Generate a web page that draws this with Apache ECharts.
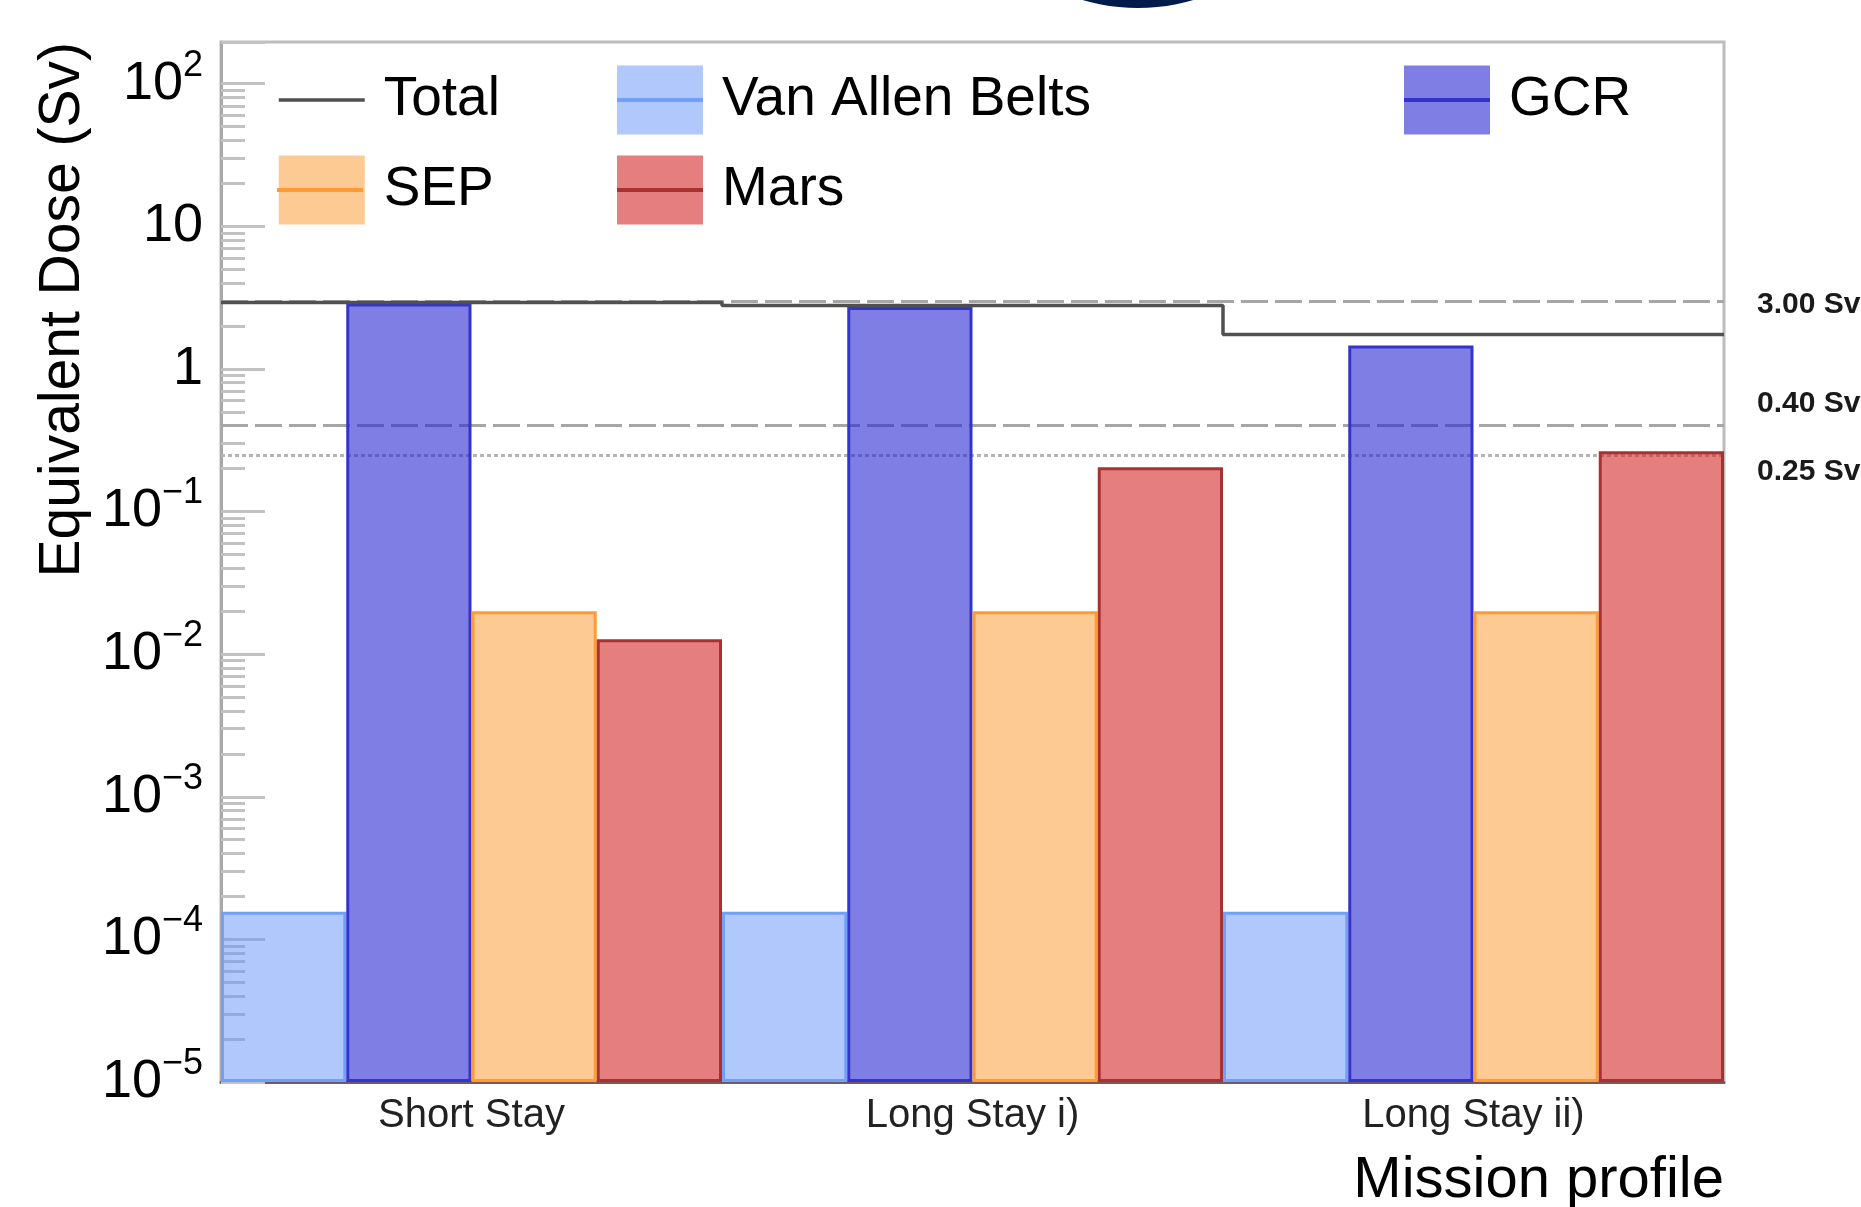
<!DOCTYPE html>
<html lang="en">
<head>
<meta charset="UTF-8">
<title>Equivalent dose per mission profile</title>
<script src="https://cdn.jsdelivr.net/npm/echarts@6/dist/echarts.min.js"></script>
<style>
  html, body { margin: 0; padding: 0; background: #fff; }
  #main { width: 1861px; height: 1207px; }
</style>
</head>
<body>
<div id="main"></div>
<script>
// mission profiles on the x axis
const missions = ['Short Stay', 'Long Stay i)', 'Long Stay ii)']
// equivalent dose per source (Sv)
const vanAllen = [1.56e-4, 1.56e-4, 1.56e-4]
const gcr = [2.88, 2.72, 1.46]
const sep = [0.020, 0.020, 0.020]
const mars = [0.0127, 0.204, 0.265]
const total = [2.92, 2.78, 1.74]
// dose limits drawn as horizontal lines (Sv)
const limits = [3.0, 0.4, 0.25]

const font = '"Liberation Sans", Arial, Helvetica, sans-serif'

// bar colours: translucent fill + outline, like the ROOT histograms
const sources = [
  { name: 'Van Allen Belts', data: vanAllen, fill: 'rgba(97,145,249,0.5)', line: '#73a0f7' },
  { name: 'GCR', data: gcr, fill: 'rgba(40,40,210,0.6)', line: '#3434cc' },
  { name: 'SEP', data: sep, fill: 'rgba(251,149,41,0.5)', line: '#ff9a35' },
  { name: 'Mars', data: mars, fill: 'rgba(212,42,42,0.6)', line: '#a83232' }
]
const lineOf = name => sources.find(s => s.name === name).line

function init () {
  const chart = echarts.init(document.getElementById('main'), null, { renderer: 'canvas' })

  // total as a step line on a hidden 0..3 value axis (bin edges)
  const totalSteps = total.map((t, i) => [i, t])
  totalSteps.push([total.length, total[total.length - 1]])

  // the 0.40 label sits above its line, the others a bit below
  const limitText = (v, i) => {
    const t = v.toFixed(2) + ' Sv'
    if (i === 0) return '{s|}\n{a|' + t + '}'
    if (i === 1) return '{a|' + t + '}\n{u|}'
    return '{d|}\n{a|' + t + '}'
  }

  const boxLegend = (left, top, names) => ({
    orient: 'vertical', left, top, padding: 0,
    itemWidth: 86, itemHeight: 69, itemGap: 21,
    selectedMode: false,
    itemStyle: { borderWidth: 0 },
    lineStyle: { color: '#505050', width: 3.5 },
    textStyle: { fontSize: 55, lineHeight: 69, color: '#000', fontFamily: font, padding: [0, 0, 0, 14] },
    data: names.map(n => n === 'Total'
      ? { name: n, itemStyle: { opacity: 0 }, lineStyle: { color: '#505050', width: 3.5 } }
      : { name: n, icon: 'rect' })
  })
  const stripLegend = (left, top, names) => ({
    orient: 'vertical', left, top, padding: 0,
    itemWidth: 86, itemHeight: 4, itemGap: 86,
    selectedMode: false,
    textStyle: { fontSize: 1, color: 'rgba(0,0,0,0)' },
    formatter: () => '',
    data: names.map(n => ({ name: n, icon: 'rect', itemStyle: { color: lineOf(n), borderWidth: 0 } }))
  })

  const option = {
    animation: false,
    backgroundColor: '#fff',
    textStyle: { fontFamily: font },
    title: {
      text: 'Mission profile',
      right: 137, top: 1150, padding: 0,
      textStyle: { fontSize: 58, lineHeight: 62, fontWeight: 'normal', color: '#000', fontFamily: font }
    },
    graphic: [
      { type: 'circle', shape: { cx: 1138, cy: -188, r: 196 }, style: { fill: '#001a4a' } },
      {
        type: 'text', x: 63, y: 42, rotation: Math.PI / 2,
        style: {
          text: 'Equivalent Dose (Sv)', fill: '#000',
          fontSize: 57, fontFamily: font, align: 'right', verticalAlign: 'middle'
        }
      }
    ],
    legend: [
      boxLegend(277, 65.5, ['Total', 'SEP']),
      boxLegend(617, 65.5, ['Van Allen Belts', 'Mars']),
      boxLegend(1404, 65.5, ['GCR']),
      stripLegend(617, 98, ['Van Allen Belts', 'Mars']),
      stripLegend(1404, 98, ['GCR']),
      stripLegend(277, 188, ['SEP'])
    ],
    grid: {
      left: 221, right: 137, top: 42, bottom: 125,
      show: true, borderColor: '#bdbdbd', borderWidth: 3,
      outerBoundsMode: 'none'
    },
    xAxis: [
      {
        type: 'category',
        data: missions,
        axisLine: { onZero: false, lineStyle: { color: '#765a5a', width: 3 } },
        axisTick: { show: false },
        axisLabel: { fontSize: 40, color: '#222', margin: 14, fontFamily: font },
        splitLine: { show: false }
      },
      { type: 'value', min: 0, max: 3, show: false }
    ],
    yAxis: {
      type: 'log',
      logBase: 10,
      min: 1e-5,
      max: 196,
      startValue: 1e-5,
      axisLine: { show: true, lineStyle: { color: '#a8a8a8', width: 3 } },
      axisTick: { show: true, inside: true, length: 44, lineStyle: { color: '#c2c2c2', width: 3 } },
      minorTick: { show: true, splitNumber: 9, length: 24, lineStyle: { color: '#c2c2c2', width: 3 } },
      splitLine: { show: false },
      axisLabel: {
        margin: 18,
        showMaxLabel: false,
        color: '#000',
        formatter: v => {
          const e = Math.round(Math.log10(v))
          if (e === 0) return '{b|1}'
          if (e === 1) return '{b|10}'
          return '{b|10}{s|' + (e < 0 ? '\u2212' + (-e) : e) + '}'
        },
        rich: {
          b: { fontSize: 54, color: '#000', fontFamily: font },
          s: { fontSize: 36, color: '#000', fontFamily: font, padding: [0, 0, 36, 0] }
        }
      }
    },
    series: sources.map(s => ({
      name: s.name,
      type: 'bar',
      data: s.data,
      barGap: '0%',
      barCategoryGap: '0%',
      z: 2,
      itemStyle: { color: s.fill, borderColor: s.line, borderWidth: 3 }
    })).concat([{
      name: 'Total',
      type: 'line',
      xAxisIndex: 1,
      data: totalSteps,
      step: 'end',
      symbol: 'none',
      z: 3,
      lineStyle: { color: '#505050', width: 3.5 },
      itemStyle: { color: '#505050' },
      markLine: {
        z: 1,
        silent: true,
        symbol: 'none',
        data: limits.map((v, i) => ({
          yAxis: v,
          lineStyle: i === 2
            ? { type: [4, 3], color: '#b4b4b4', width: 3 }
            : { type: [27, 7], color: '#a6a6a6', width: 3 },
          label: { formatter: () => limitText(v, i) }
        })),
        label: {
          show: true,
          position: 'end',
          distance: 33,
          color: '#1a1a1a',
          rich: {
            a: { fontSize: 30, fontWeight: 'bold', color: '#1a1a1a', fontFamily: font, lineHeight: 34 },
            s: { fontSize: 1, lineHeight: 7 },
            u: { fontSize: 1, lineHeight: 44 },
            d: { fontSize: 1, lineHeight: 34 }
          }
        },
        emphasis: { disabled: true }
      }
    }])
  }

  chart.setOption(option)
}

init()
</script>
</body>
</html>
